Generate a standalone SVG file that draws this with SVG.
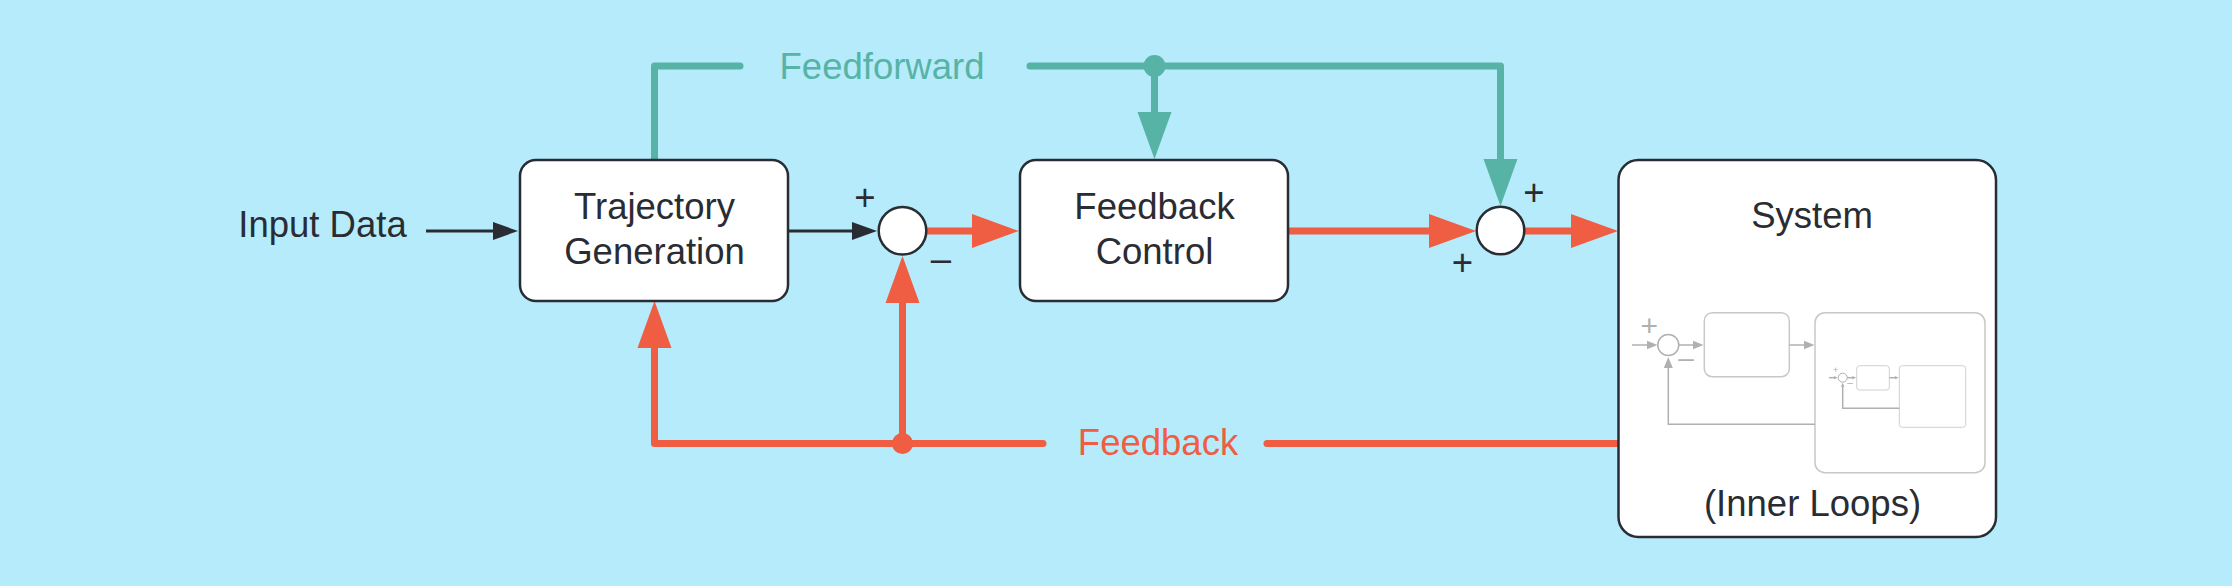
<svg xmlns="http://www.w3.org/2000/svg" width="2232" height="586" viewBox="0 0 2232 586">
<style>
.t{font-family:"Liberation Sans",Arial,Helvetica,sans-serif;font-size:36.5px;fill:#2a2c33;text-anchor:middle}
.node{fill:#fff;stroke:#2a2c33;stroke-width:2.5}
.sum{fill:#fff;stroke:#2a2c33;stroke-width:2.5}
.dark{stroke:#2a2c33;stroke-width:3;fill:none}
.red{stroke:#ef5d42;stroke-width:7;fill:none;stroke-linecap:round;stroke-linejoin:round}
.teal{stroke:#57b3a6;stroke-width:7;fill:none;stroke-linecap:round;stroke-linejoin:round}
.mini{stroke:#b0b0b0;stroke-width:1.5;fill:none}
.minibox{fill:#fff;stroke:#c8c8c8;stroke-width:1.5}
.minibox2{fill:#fff;stroke:#d0d0d0;stroke-width:1}
.minit{font-family:"Liberation Sans",Arial,sans-serif;fill:#b0b0b0;text-anchor:middle}
</style>
<defs>
<marker id="ad" markerUnits="userSpaceOnUse" markerWidth="26" markerHeight="20" viewBox="0 -10 26 20" refX="1" refY="0" orient="auto"><path d="M0,-9 L25,0 L0,9 z" fill="#2a2c33"/></marker>
<marker id="ar" markerUnits="userSpaceOnUse" markerWidth="48" markerHeight="36" viewBox="0 -18 48 36" refX="1" refY="0" orient="auto"><path d="M0,-17 L47,0 L0,17 z" fill="#ef5d42"/></marker>
<marker id="at" markerUnits="userSpaceOnUse" markerWidth="48" markerHeight="36" viewBox="0 -18 48 36" refX="1" refY="0" orient="auto"><path d="M0,-17 L47,0 L0,17 z" fill="#57b3a6"/></marker>
<marker id="ag" markerUnits="userSpaceOnUse" markerWidth="12" markerHeight="10" viewBox="0 -5 12 10" refX="0.5" refY="0" orient="auto"><path d="M0,-4.5 L11,0 L0,4.5 z" fill="#b0b0b0"/></marker>
<marker id="ags" markerUnits="userSpaceOnUse" markerWidth="5" markerHeight="4" viewBox="0 -2 5 4" refX="0.3" refY="0" orient="auto"><path d="M0,-1.8 L4,0 L0,1.8 z" fill="#b0b0b0"/></marker>
</defs>
<rect width="2232" height="586" fill="#b5ebfb"/>
<g id="connectors">
<line class="dark" x1="426" y1="231" x2="494" y2="231" marker-end="url(#ad)"/>
<line class="dark" x1="788" y1="231" x2="853" y2="231" marker-end="url(#ad)"/>
<line class="red" x1="926" y1="231" x2="973" y2="231" stroke-linecap="butt" marker-end="url(#ar)"/>
<line class="red" x1="1288" y1="231" x2="1430" y2="231" stroke-linecap="butt" marker-end="url(#ar)"/>
<line class="red" x1="1524" y1="231" x2="1572" y2="231" stroke-linecap="butt" marker-end="url(#ar)"/>
<path class="teal" d="M654.5,160 V66 H740"/>
<path class="teal" d="M1030,66 H1500.5 V160" marker-end="url(#at)"/>
<line class="teal" x1="1154.5" y1="66" x2="1154.5" y2="113" stroke-linecap="butt" marker-end="url(#at)"/>
<circle cx="1154.5" cy="66" r="11" fill="#57b3a6"/>
<path class="red" d="M1618,443.5 H1267"/>
<path class="red" d="M1043,443.5 H654.5 V347" marker-end="url(#ar)"/>
<line class="red" x1="902.5" y1="443.5" x2="902.5" y2="302" stroke-linecap="butt" marker-end="url(#ar)"/>
<circle cx="902.5" cy="443.5" r="10.5" fill="#ef5d42"/>
<text class="t" x="882" y="78.5" style="fill:#57b3a6">Feedforward</text>
<text class="t" x="1158" y="455" style="fill:#ef5d42">Feedback</text>
</g>
<g id="input">
<text class="t" x="322.5" y="237">Input Data</text>
</g>
<g id="trajectory">
<rect class="node" x="520" y="160" width="268" height="141" rx="16"/>
<text class="t" x="654.5" y="218.5">Trajectory</text>
<text class="t" x="654.5" y="263.5">Generation</text>
</g>
<g id="sum1">
<circle class="sum" cx="902.5" cy="230.7" r="23.8"/>
<text class="t" x="865" y="210">+</text>
<text class="t" x="941" y="271">–</text>
</g>
<g id="feedbackControl">
<rect class="node" x="1020" y="160" width="268" height="141" rx="16"/>
<text class="t" x="1154.5" y="218.5">Feedback</text>
<text class="t" x="1154.5" y="263.5">Control</text>
</g>
<g id="sum2">
<circle class="sum" cx="1500.5" cy="230.5" r="23.8"/>
<text class="t" x="1534" y="204.5">+</text>
<text class="t" x="1462.5" y="274.5">+</text>
</g>
<g id="system">
<rect class="node" x="1618.5" y="160" width="377.5" height="377" rx="20"/>
<text class="t" x="1812" y="228">System</text>
<text class="t" x="1812.5" y="515.5">(Inner Loops)</text>
<g id="miniature">
<rect class="minibox" x="1704.3" y="312.7" width="85" height="64" rx="8"/>
<rect class="minibox" x="1815" y="312.7" width="170" height="160" rx="10"/>
<circle cx="1668.3" cy="345" r="10.5" fill="#fff" stroke="#b0b0b0" stroke-width="1.5"/>
<line class="mini" x1="1632" y1="345" x2="1647" y2="345" marker-end="url(#ag)"/>
<line class="mini" x1="1679" y1="345" x2="1693" y2="345" marker-end="url(#ag)"/>
<line class="mini" x1="1789.3" y1="345" x2="1804" y2="345" marker-end="url(#ag)"/>
<path class="mini" d="M1815,424.3 H1668.3 V367.5" marker-end="url(#ag)"/>
<text class="minit" x="1649.3" y="336" font-size="30">+</text>
<text class="minit" x="1686" y="367" font-size="28">–</text>
<rect class="minibox2" x="1856.7" y="365.7" width="32.6" height="24.3" rx="3"/>
<rect class="minibox2" x="1899.3" y="365.7" width="66.4" height="61.6" rx="3"/>
<circle cx="1842.7" cy="377.7" r="4.5" fill="#fff" stroke="#b0b0b0" stroke-width="1"/>
<line class="mini" x1="1829" y1="377.7" x2="1834" y2="377.7" stroke-width="1" marker-end="url(#ags)"/>
<line class="mini" x1="1847.2" y1="377.7" x2="1852.5" y2="377.7" stroke-width="1" marker-end="url(#ags)"/>
<line class="mini" x1="1889.3" y1="377.7" x2="1895" y2="377.7" stroke-width="1" marker-end="url(#ags)"/>
<path class="mini" d="M1899.3,408.3 H1842.7 V386.5" stroke-width="1" marker-end="url(#ags)"/>
<text class="minit" x="1835.7" y="373.2" font-size="9">+</text>
<text class="minit" x="1850" y="386" font-size="10">–</text>
</g>
</g>
</svg>
